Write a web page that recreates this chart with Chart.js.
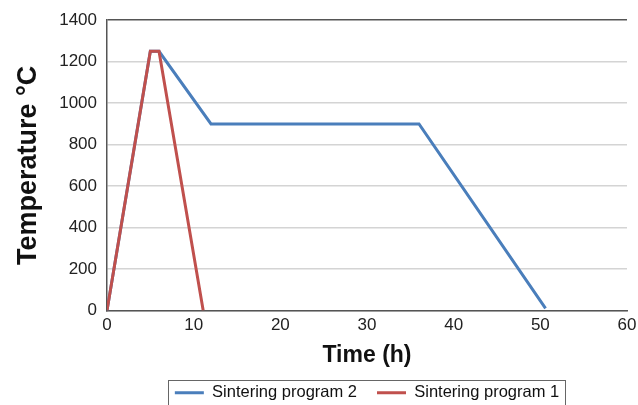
<!DOCTYPE html>
<html>
<head>
<meta charset="utf-8">
<script src="https://cdn.jsdelivr.net/npm/chart.js@4.4.1/dist/chart.umd.min.js"></script>
<style>
html,body{margin:0;padding:0;background:#fff;}
#wrap{width:638px;height:405px;position:relative;}
</style>
</head>
<body>
<div id="wrap"><canvas id="c" width="638" height="405"></canvas></div>
<script>
const seriesNames = ['Sintering program 2', 'Sintering program 1'];
const program2Time = [0, 5, 6, 12, 36, 50.6];
const program2Temp = [0, 1250, 1250, 900, 900, 10];
const program1Time = [0, 5, 6, 11.1];
const program1Temp = [0, 1250, 1250, 0];
const xTicks = [0, 10, 20, 30, 40, 50, 60];
const yTicks = [0, 200, 400, 600, 800, 1000, 1200, 1400];

const toPoints = (xs, ys) => xs.map((x, i) => ({x: x, y: ys[i]}));

const legendBorder = {
  id: 'legendBorder',
  afterDraw(chart) {
    const lg = chart.legend;
    if (!lg || !lg.legendHitBoxes || !lg.legendHitBoxes.length) return;
    const hb = lg.legendHitBoxes;
    let minX = Infinity, maxX = -Infinity, minY = Infinity, maxY = -Infinity;
    hb.forEach(b => {
      minX = Math.min(minX, b.left); maxX = Math.max(maxX, b.left + b.width);
      minY = Math.min(minY, b.top); maxY = Math.max(maxY, b.top + b.height);
    });
    const ctx = chart.ctx;
    ctx.save();
    ctx.strokeStyle = '#666';
    ctx.lineWidth = 1;
    ctx.strokeRect(Math.round(minX - 7) + 0.5, Math.round(minY - 5) + 0.5, Math.round(maxX - minX + 13), Math.round(maxY - minY + 12));
    ctx.restore();
  }
};

new Chart(document.getElementById('c'), {
  type: 'line',
  data: {
    datasets: [
      {
        label: seriesNames[0],
        data: toPoints(program2Time, program2Temp),
        borderColor: '#4a7ebb',
        backgroundColor: '#4a7ebb',
        borderWidth: 3,
        pointRadius: 0,
        tension: 0,
        order: 1
      },
      {
        label: seriesNames[1],
        data: toPoints(program1Time, program1Temp),
        borderColor: '#c0504d',
        backgroundColor: '#c0504d',
        borderWidth: 3,
        pointRadius: 0,
        tension: 0,
        order: 0
      }
    ]
  },
  options: {
    responsive: false,
    animation: false,
    events: [],
    layout: {padding: {left: 10, right: 11, top: 14, bottom: -6}},
    plugins: {
      legend: {
        position: 'bottom',
        fullSize: false,
        labels: {
          usePointStyle: true,
          pointStyle: 'line',
          pointStyleWidth: 29,
          boxHeight: 15,
          padding: 20,
          color: '#111',
          font: {family: 'Liberation Sans', size: 16.5},
          sort: (a, b) => a.datasetIndex - b.datasetIndex
        }
      },
      tooltip: {enabled: false}
    },
    scales: {
      x: {
        type: 'linear',
        min: 0,
        max: 60,
        afterBuildTicks(axis) { axis.ticks = xTicks.map(v => ({value: v})); },
        afterFit(axis) { axis.height = 54; axis.paddingRight = 0; axis.paddingLeft = 0; },
        grid: {display: false, drawTicks: false},
        border: {color: '#555', width: 1.5},
        ticks: {color: '#222', padding: 5, font: {family: 'Liberation Sans', size: 17}, maxRotation: 0, callback: v => String(v)},
        title: {display: true, text: 'Time (h)', color: '#111', padding: {top: 0, bottom: -5}, font: {family: 'Liberation Sans', size: 23, weight: 'bold'}}
      },
      y: {
        min: 0,
        max: 1400,
        afterBuildTicks(axis) { axis.ticks = yTicks.map(v => ({value: v})); },
        afterFit(axis) { axis.width = 97; },
        grid: {
          drawTicks: false,
          color: ctx => (ctx.tick && ctx.tick.value === 1400) ? '#555' : '#d4d4d4',
          lineWidth: 1.5
        },
        border: {color: '#555', width: 1.5},
        ticks: {color: '#222', padding: 10, font: {family: 'Liberation Sans', size: 17}, callback: v => String(v)},
        title: {display: true, text: 'Temperature °C', color: '#111', padding: {top: 2, bottom: 2}, font: {family: 'Liberation Sans', size: 27, weight: 'bold'}}
      }
    }
  },
  plugins: [legendBorder]
});
</script>
</body>
</html>
